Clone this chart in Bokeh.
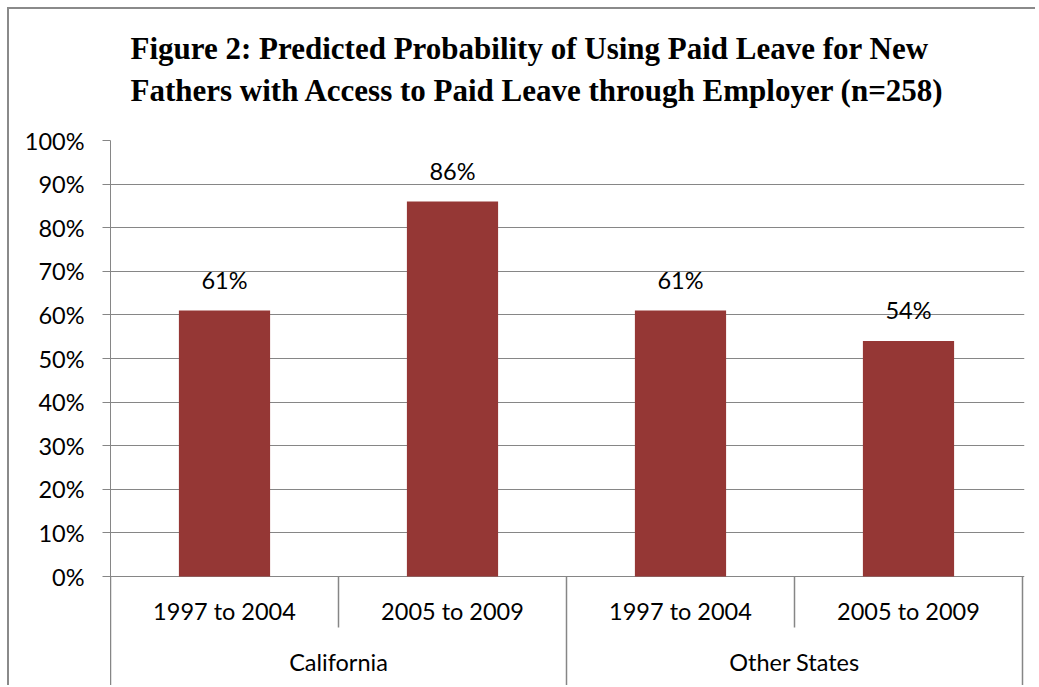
from bokeh.plotting import figure
from bokeh.models import Range1d, FixedTicker, ColumnDataSource, Title
from bokeh.core.properties import value
from bokeh.embed import file_html
from bokeh.resources import INLINE

# ---- data ----
groups = ["California", "California", "Other States", "Other States"]
periods = ["1997 to 2004", "2005 to 2009", "1997 to 2004", "2005 to 2009"]
probabilities = [61, 86, 61, 54]
bar_labels = ["61%", "86%", "61%", "54%"]
y_ticks = [0, 10, 20, 30, 40, 50, 60, 70, 80, 90, 100]
y_tick_labels = ["0%", "10%", "20%", "30%", "40%", "50%", "60%", "70%", "80%", "90%", "100%"]
title_text = ("Figure 2: Predicted Probability of Using Paid Leave for New\n"
              "Fathers with Access to Paid Leave through Employer (n=258)")

# ---- styles ----
BAR = "#953735"
GRID = "#868686"
FONT = "Lato"
FS = "23.5px"
PX_PER_UNIT = 4.36          # pixels per percentage point
BELOW_PX = 111              # frame extends below 0% for the category axis
INNER_SEP_PX = 51

xs = [i + 0.5 for i in range(len(probabilities))]

p = figure(width=1028, height=678, output_backend="svg", toolbar_location=None,
           x_axis_location=None, title=None,
           x_range=Range1d(0, 4.0088), y_range=Range1d(-BELOW_PX / PX_PER_UNIT, 100),
           min_border_left=101, min_border_top=131, min_border_right=13, min_border_bottom=0)
p.styles = {"border-top": "2px solid #8a8a8a", "border-left": "2px solid #8a8a8a",
            "margin-left": "7px", "margin-top": "7px"}
p.outline_line_color = None
p.background_fill_color = "white"

# title: a blank spacer panel next to the frame, then the two-line title
p.add_layout(Title(text=" ", text_font_size="25px", standoff=2), "above")
p.add_layout(Title(text=title_text, align="left", offset=20, standoff=0,
                   text_font="Liberation Serif", text_font_style="bold",
                   text_font_size="31px", text_line_height=1.22, text_color="black"),
             "above")

# y axis
p.yaxis.ticker = FixedTicker(ticks=y_ticks)
p.yaxis.major_label_overrides = {t: l for t, l in zip(y_ticks, y_tick_labels)}
p.yaxis.axis_line_color = GRID
p.yaxis.major_tick_line_color = GRID
p.yaxis.major_tick_out = 8
p.yaxis.major_tick_in = 0
p.yaxis.minor_tick_line_color = None
p.yaxis.major_label_text_font = FONT
p.yaxis.major_label_text_font_size = FS
p.yaxis.major_label_text_color = "black"
p.yaxis.major_label_standoff = 18
p.ygrid.grid_line_color = GRID
p.xgrid.visible = False

# bars
src = ColumnDataSource(dict(x=xs, top=probabilities, label=bar_labels, period=periods))
p.vbar(x="x", top="top", bottom=0, width=0.4, source=src, fill_color=BAR, line_color=None)

# data labels
p.text(x="x", y="top", text="label", source=src, text_align="center",
       text_baseline="alphabetic", y_offset=-31, text_font=value(FONT),
       text_font_size=FS, text_color="black")

# category labels (level 1)
p.text(x="x", y=0, text="period", source=src, text_align="center",
       text_baseline="middle", y_offset=34, text_font=value(FONT),
       text_font_size=FS, text_color="black")

# group labels (level 2)
group_names = []
for g in groups:
    if g not in group_names:
        group_names.append(g)
group_start = [groups.index(g) for g in group_names]
group_end = [len(groups) - groups[::-1].index(g) for g in group_names]
group_center = [(s + e) / 2 for s, e in zip(group_start, group_end)]
p.text(x=group_center, y=[0] * len(group_names), text=group_names, text_align="center",
       text_baseline="middle", y_offset=85, text_font=value(FONT),
       text_font_size=FS, text_color="black")

# separators
inner = [i for i in range(1, len(groups)) if groups[i] == groups[i - 1]]
outer = [0] + [i for i in range(1, len(groups)) if groups[i] != groups[i - 1]] + [len(groups)]
p.segment(x0=inner, x1=inner, y0=[0] * len(inner), y1=[-INNER_SEP_PX / PX_PER_UNIT] * len(inner),
          line_color=GRID, line_width=1.5)
p.segment(x0=outer, x1=outer, y0=[0] * len(outer), y1=[-BELOW_PX / PX_PER_UNIT] * len(outer),
          line_color=GRID, line_width=1.5)

open("out.html", "w").write(file_html(p, INLINE))
